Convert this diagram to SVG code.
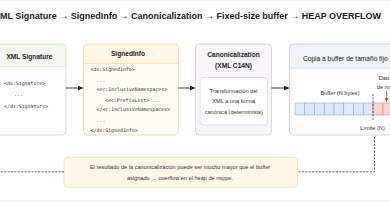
<svg xmlns="http://www.w3.org/2000/svg" width="390" height="205" viewBox="0 0 390 205">
<style>
.sans{font-family:"Liberation Sans","Noto Sans",Arial,sans-serif;}
.mono{font-family:"DejaVu Sans Mono","Liberation Mono",monospace;font-size:4.9px;fill:#333;}
.hdr{font-family:"Liberation Sans","Noto Sans",Arial,sans-serif;font-weight:bold;font-size:6.6px;fill:#222;text-anchor:middle;}
.body{font-family:"Liberation Sans","Noto Sans",Arial,sans-serif;font-size:5.6px;fill:#333;text-anchor:middle;}
.arrow{stroke:#222;stroke-width:0.9;fill:none;marker-end:url(#ah);}
.dash{stroke:#333;stroke-width:0.8;fill:none;stroke-dasharray:2 1.4;}
.cellb{fill:#dce8f7;stroke:#8aaed8;stroke-width:0.6;}
.cellr{fill:#f9d2d2;stroke:#e08888;stroke-width:0.6;}
</style>
<defs>
<marker id="ah" viewBox="0 0 10 10" refX="10" refY="5" markerWidth="5" markerHeight="5" orient="auto" markerUnits="userSpaceOnUse"><path d="M0,0 L10,5 L0,10 Z" fill="#222"/></marker>
<marker id="ahr" viewBox="0 0 10 10" refX="10" refY="5" markerWidth="4" markerHeight="4" orient="auto" markerUnits="userSpaceOnUse"><path d="M0,0 L10,5 L0,10 Z" fill="#d83a34"/></marker>
</defs>
<rect x="0" y="0" width="390" height="205" fill="#ffffff"/>
<line x1="0" y1="0.8" x2="390" y2="0.8" stroke="#e2e7ef" stroke-width="0.8"/>
<line x1="0" y1="201" x2="390" y2="201" stroke="#dfe5ee" stroke-width="0.8"/>
<g id="title">
<text x="-6" y="19" class="sans" font-weight="bold" font-size="9.6" fill="#222" textLength="387" lengthAdjust="spacingAndGlyphs">XML Signature → SignedInfo → Canonicalization → Fixed-size buffer → HEAP OVERFLOW</text>
</g>
<g id="node-xmlsig">
<rect x="-8" y="44" width="74" height="91" rx="4" fill="#ffffff"/>
<path d="M-8,66.7 V48 Q-8,44 -4,44 H62 Q66,44 66,48 V66.7 Z" fill="#f3f9f0"/>
<line x1="-8" y1="66.7" x2="66" y2="66.7" stroke="#cfe3c6" stroke-width="0.8"/>
<rect x="-8" y="44" width="74" height="91" rx="4" fill="none" stroke="#c9e0bf" stroke-width="0.9"/>
<text x="29.5" y="58.5" class="hdr">XML Signature</text>
<text x="4" y="84.5" class="mono">&lt;ds:Signature&gt;</text>
<text x="14" y="96" class="mono">...</text>
<text x="4" y="107.5" class="mono">&lt;/ds:Signature&gt;</text>
</g>
<g id="node-signedinfo">
<rect x="83.5" y="44" width="95" height="91" rx="4" fill="#fffbf3"/>
<path d="M83.5,63.5 V48 Q83.5,44 87.5,44 H174.5 Q178.5,44 178.5,48 V63.5 Z" fill="#fff6e6"/>
<line x1="83.5" y1="63.5" x2="178.5" y2="63.5" stroke="#f6dcab" stroke-width="0.8"/>
<rect x="83.5" y="44" width="95" height="91" rx="4" fill="none" stroke="#f5d8a3" stroke-width="0.9"/>
<text x="128" y="55.5" class="hdr">SignedInfo</text>
<text x="90.5" y="71" class="mono">&lt;ds:SignedInfo&gt;</text>
<text x="96.5" y="82" class="mono">...</text>
<text x="96.5" y="91" class="mono">&lt;ec:InclusiveNamespaces&gt;</text>
<text x="105" y="101.5" class="mono">&lt;ec:PrefixList&gt; ...</text>
<text x="96.5" y="110.5" class="mono">&lt;/ec:InclusiveNamespaces&gt;</text>
<text x="96.5" y="122" class="mono">...</text>
<text x="90.5" y="132" class="mono">&lt;/ds:SignedInfo&gt;</text>
</g>
<g id="node-c14n">
<rect x="195.5" y="44" width="76" height="91" rx="4" fill="#f8f5fc" stroke="#d9cfe9" stroke-width="0.9"/>
<text x="233.5" y="57" class="hdr" font-size="6.4">Canonicalization</text>
<text x="233.5" y="68" class="hdr" font-size="6.4">(XML C14N)</text>
<rect x="200" y="77.5" width="67.5" height="47.5" rx="3" fill="#ffffff" stroke="#ddd3eb" stroke-width="0.8"/>
<text x="233.7" y="93" class="body">Transformación del</text>
<text x="233.7" y="103" class="body">XML a una forma</text>
<text x="233.7" y="113.5" class="body">canónica (determinista)</text>
</g>
<g id="node-buffer">
<rect x="289.5" y="44" width="110" height="91" rx="4" fill="#ffffff"/>
<path d="M289.5,68.3 V48 Q289.5,44 293.5,44 H400 V68.3 Z" fill="#eef3fa"/>
<line x1="289.5" y1="68.3" x2="400" y2="68.3" stroke="#c9d7ea" stroke-width="0.8"/>
<rect x="289.5" y="44" width="110" height="91" rx="4" fill="none" stroke="#c3d3e8" stroke-width="0.9"/>
<text x="303" y="60.5" class="sans" font-size="6.6" fill="#222">Copia a buffer de tamaño fijo</text>
<text x="340" y="95" class="body" font-size="5.3">Buffer (N bytes)</text>
<rect x="295" y="103" width="9.75" height="12" class="cellb"/>
<rect x="304.75" y="103" width="9.75" height="12" class="cellb"/>
<rect x="314.5" y="103" width="9.75" height="12" class="cellb"/>
<rect x="324.25" y="103" width="9.75" height="12" class="cellb"/>
<rect x="334" y="103" width="9.75" height="12" class="cellb"/>
<rect x="343.75" y="103" width="9.75" height="12" class="cellb"/>
<rect x="353.5" y="103" width="9.75" height="12" class="cellb"/>
<rect x="363.25" y="103" width="9.75" height="12" class="cellb"/>
<rect x="373" y="103" width="10" height="12" class="cellr"/>
<rect x="383" y="103" width="10" height="12" class="cellr"/>
<text x="386" y="80" class="body" font-size="5.8" fill="#d83a34">Datos</text>
<text x="386" y="89" class="body" font-size="5.8" fill="#d83a34">de más</text>
<line x1="386.5" y1="91" x2="386.5" y2="102" stroke="#d83a34" stroke-width="0.8" marker-end="url(#ahr)"/>
<line x1="373" y1="94" x2="373" y2="121" class="dash"/>
<text x="372.5" y="130" class="body" font-size="5">Límite (N)</text>
</g>
<g id="node-note">
<rect x="64" y="157.3" width="233.7" height="30" rx="4" fill="#fff7e8" stroke="#f5dcae" stroke-width="0.9"/>
<text x="180" y="168.5" class="body" font-size="6" fill="#333">El resultado de la canonicalización puede ser mucho mayor que el buffer</text>
<text x="180" y="179.5" class="body" font-size="6" fill="#333">asignado → overflow en el heap de nsppe.</text>
</g>
<g id="connectors">
<line x1="66" y1="88" x2="83" y2="88" class="arrow"/>
<line x1="178.5" y1="88" x2="195" y2="88" class="arrow"/>
<line x1="271.5" y1="88" x2="289" y2="88" class="arrow"/>
<path d="M374.5,137 V171.8 H297.7" class="dash"/>
<path d="M64,171.8 H0" class="dash"/>
</g>
</svg>
